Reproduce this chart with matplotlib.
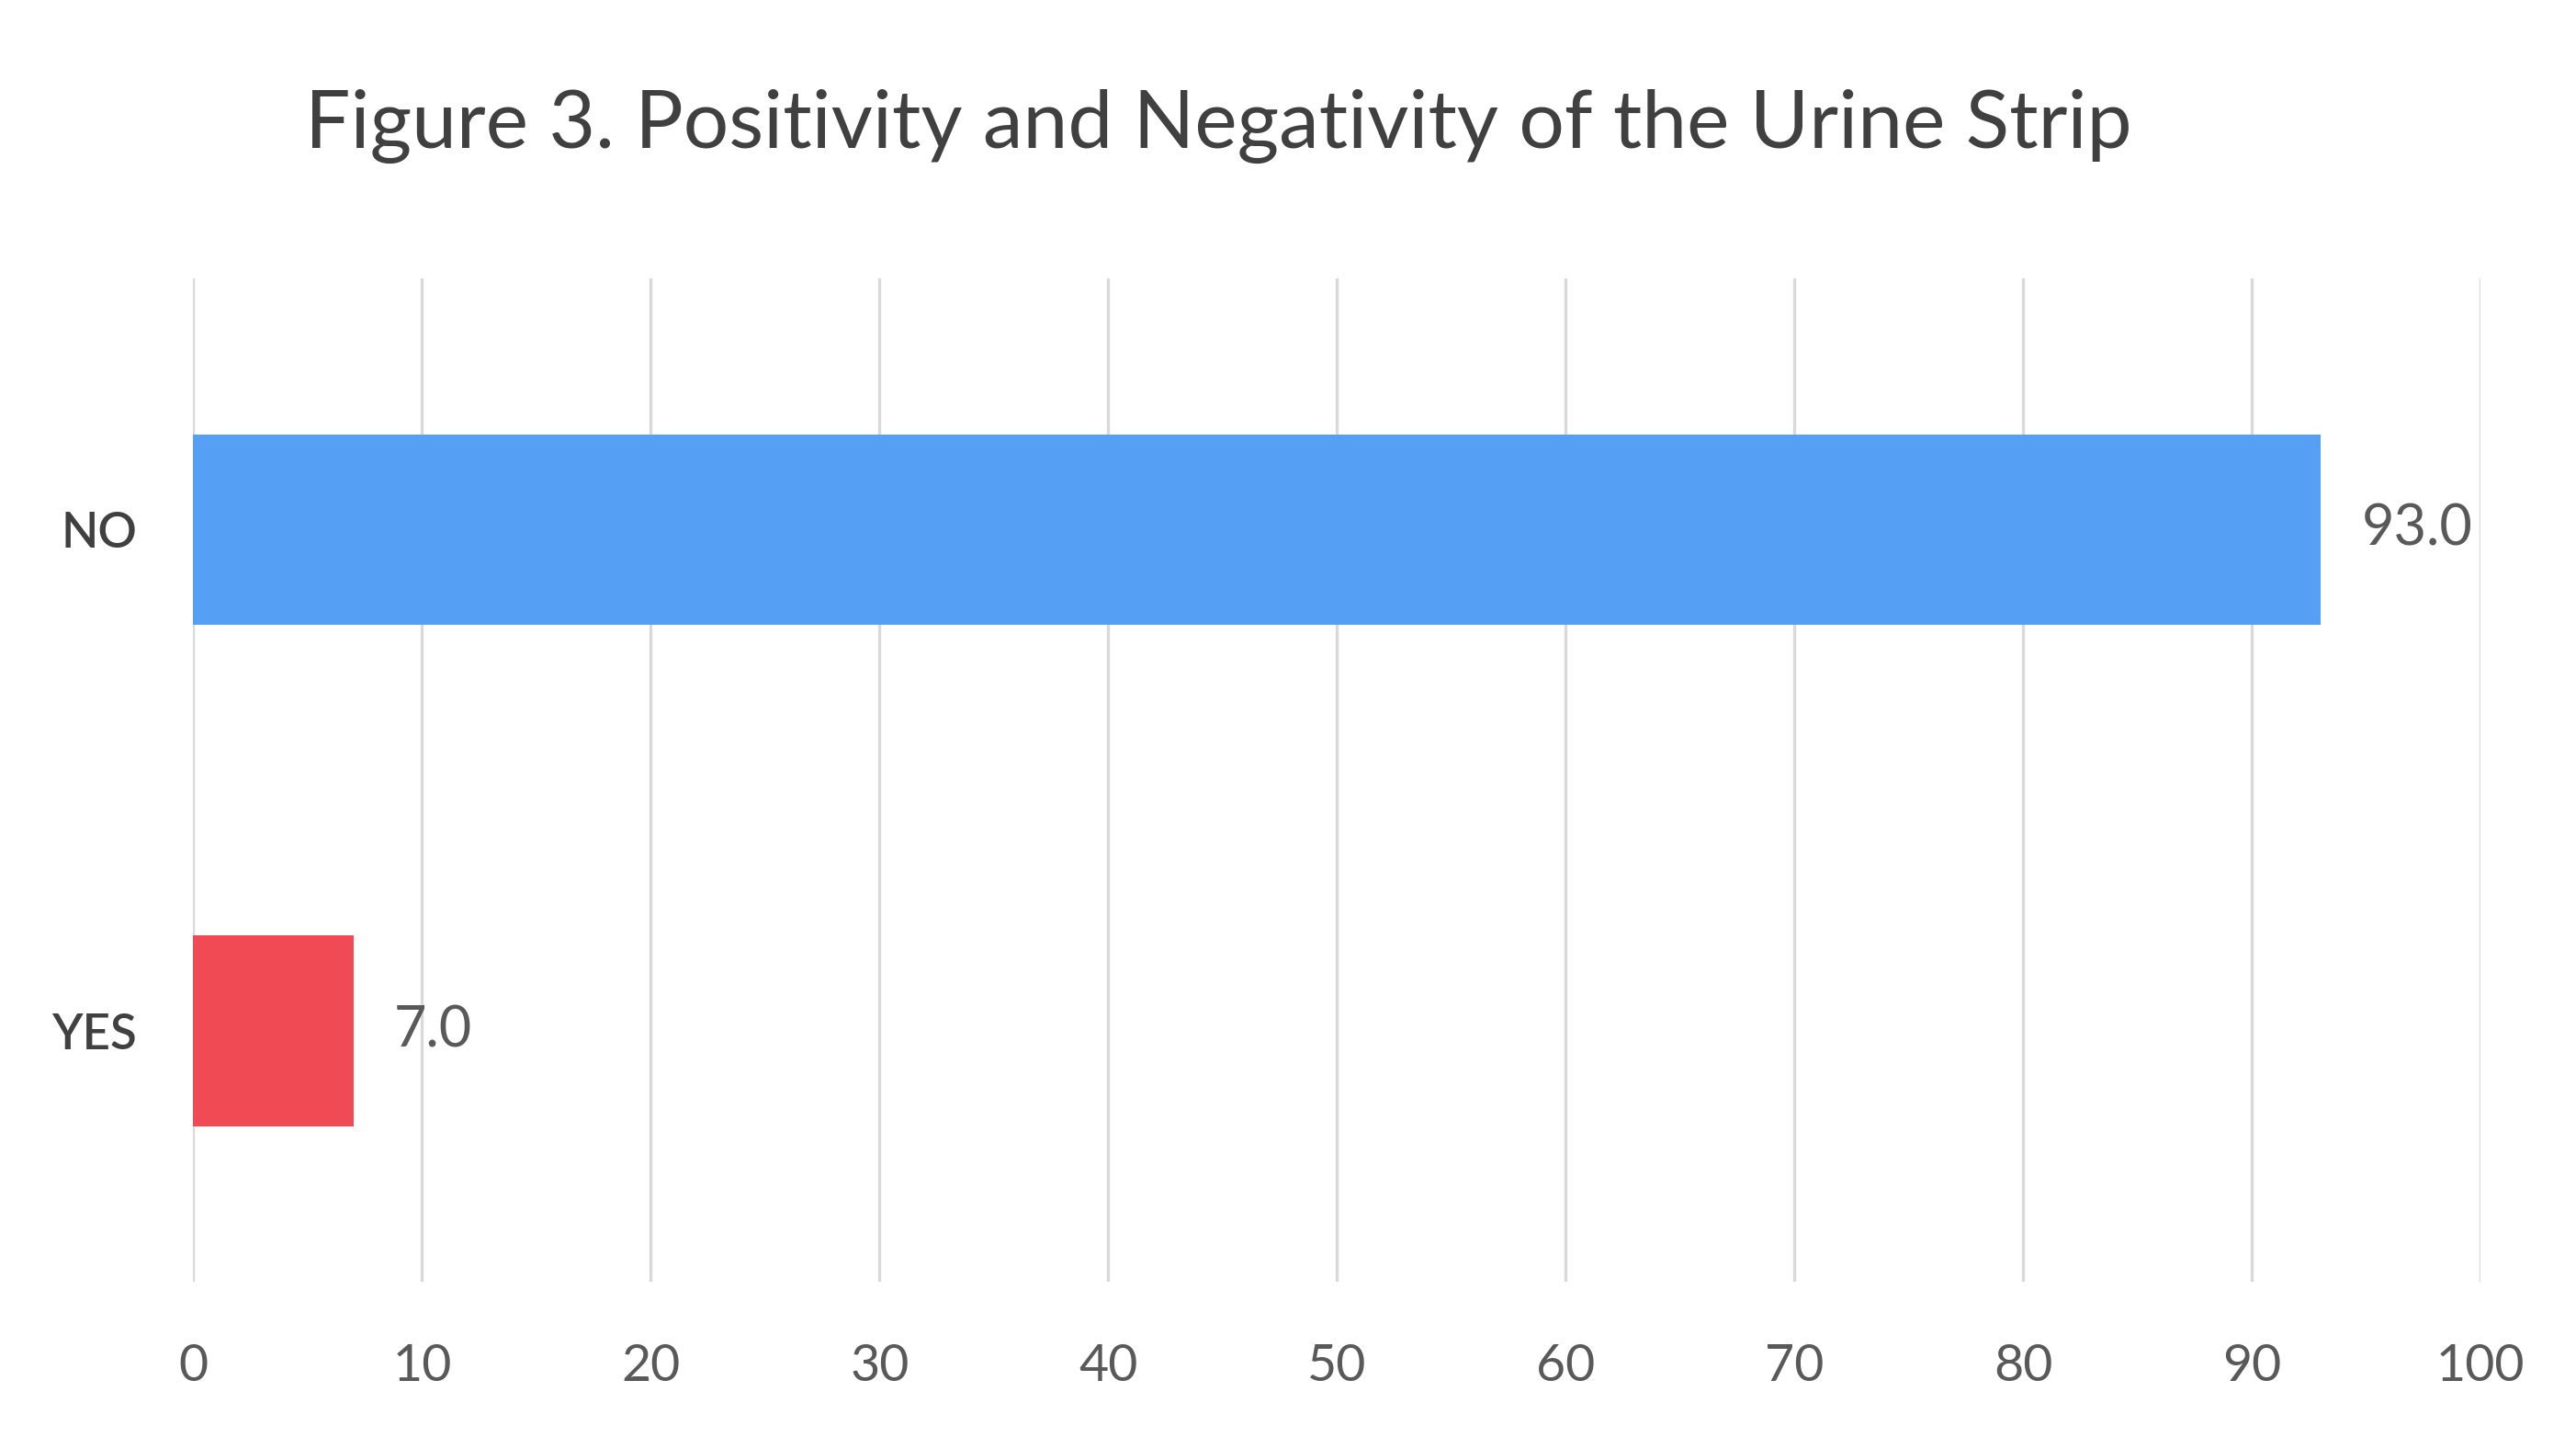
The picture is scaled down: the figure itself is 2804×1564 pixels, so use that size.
import matplotlib.pyplot as plt

categories = ['NO', 'YES']
values = [93.0, 7.0]
colors = ['#55a0f5', '#f04a55']
x_ticks = [0, 10, 20, 30, 40, 50, 60, 70, 80, 90, 100]

plt.rcParams['font.family'] = ['Lato', 'DejaVu Sans']

fig = plt.figure(figsize=(14.02, 7.82), dpi=200)
fig.patch.set_facecolor('white')
ax = fig.add_axes([0.075, 0.108, 0.888, 0.698])

ax.barh(categories, values, height=0.38, color=colors, zorder=3)
ax.set_ylim(1.5, -0.5)
ax.set_xlim(0, 100)
ax.set_xticks(x_ticks)

# value labels at the end of each bar
for cat, v in zip(categories, values):
    ax.annotate(f'{v:.1f}', xy=(v, cat), xytext=(16, 0), textcoords='offset points',
                ha='left', va='center', fontsize=22, color='#595959')

ax.grid(axis='x', color='#d9d9d9', linewidth=1.2, zorder=0)
for s in ax.spines.values():
    s.set_visible(False)
ax.tick_params(axis='both', length=0)
ax.tick_params(axis='x', labelsize=20, labelcolor='#595959', pad=24)
ax.tick_params(axis='y', labelsize=19, labelcolor='#404040', pad=22)
for lbl in ax.get_yticklabels():
    lbl.set_fontweight('semibold')

fig.text(0.473, 0.912, 'Figure 3. Positivity and Negativity of the Urine Strip',
         ha='center', va='center', fontsize=31.5, color='#404040')

fig.savefig('out.png', dpi=200, facecolor='white')
